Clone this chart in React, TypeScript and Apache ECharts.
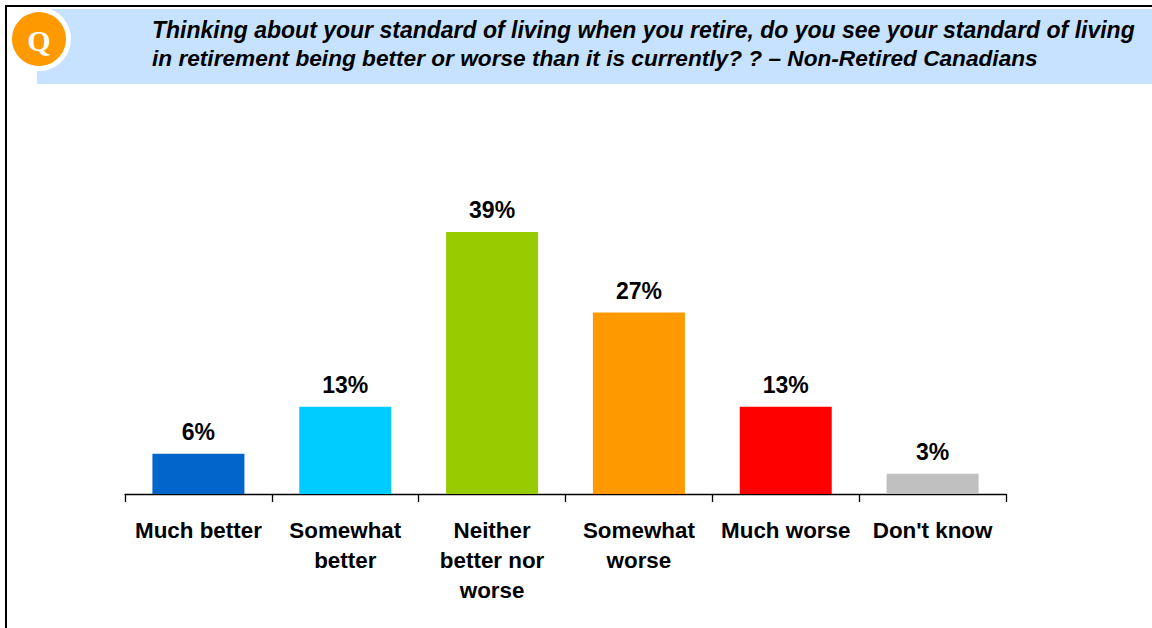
import React, { useEffect, useRef } from "react";
import * as echarts from "echarts";

const categories = ["Much better", "Somewhat\nbetter", "Neither\nbetter nor\nworse", "Somewhat\nworse", "Much worse", "Don't know"];
const values = [6, 13, 39, 27, 13, 3];
const barColors = ["#0066CC", "#00CCFF", "#99CC00", "#FF9900", "#FF0000", "#C0C0C0"];
const titleLines = [
  "Thinking about your standard of living when you retire, do you see your standard of living",
  "in retirement being better or worse than it is currently? ? – Non-Retired Canadians",
];
const FONT = '"Liberation Sans", Arial, sans-serif';

export default function App() {
  const ref = useRef<HTMLDivElement>(null);
  useEffect(() => {
    const chart = echarts.init(ref.current!, undefined, { renderer: "svg" });
    chart.setOption({
      animation: false,
      backgroundColor: "#fff",
      grid: { left: 125, width: 881, top: 225.2, height: 268.8, containLabel: false },
      xAxis: {
        type: "category",
        data: categories,
        axisLine: { show: true, lineStyle: { color: "#000", width: 1.3 } },
        axisTick: { show: true, length: 8, lineStyle: { color: "#000", width: 1.3 } },
        axisLabel: {
          interval: 0,
          margin: 21,
          fontFamily: FONT,
          fontWeight: "bold",
          fontSize: 22.4,
          lineHeight: 30,
          color: "#000",
        },
      },
      yAxis: { type: "value", min: 0, max: 40, show: false },
      series: [
        {
          type: "bar",
          barWidth: 92,
          data: values.map((v, i) => ({ value: v, itemStyle: { color: barColors[i] } })),
          label: {
            show: true,
            position: "top",
            distance: 10,
            formatter: "{c}%",
            fontFamily: FONT,
            fontWeight: "bold",
            fontSize: 23,
            color: "#000",
          },
        },
      ],
      graphic: [
        { type: "rect", z: 1, shape: { x: 37, y: 9, width: 1115, height: 75 }, style: { fill: "#C6E2FF" } },
        { type: "line", z: 2, shape: { x1: 6, y1: 6, x2: 1152, y2: 6 }, style: { stroke: "#000", lineWidth: 2 } },
        { type: "line", z: 2, shape: { x1: 6, y1: 5, x2: 6, y2: 628 }, style: { stroke: "#000", lineWidth: 2 } },
        { type: "circle", z: 3, shape: { cx: 39, cy: 39, r: 32 }, style: { fill: "#fff" } },
        { type: "circle", z: 4, shape: { cx: 39, cy: 39, r: 27 }, style: { fill: "#FF9900" } },
        {
          type: "text", z: 5, x: 39, y: 40,
          style: { text: "Q", fill: "#fff", font: 'bold 30px "Liberation Serif", serif', align: "center", verticalAlign: "middle" },
        },
        ...titleLines.map((t, i) => ({
          type: "text", z: 5, x: 152, y: 30 + i * 28,
          style: { text: t, fill: "#000", font: `italic bold ${i === 0 ? 23 : 22.65}px ${FONT}`, align: "left", verticalAlign: "middle" },
        })),
      ],
    });
    return () => chart.dispose();
  }, []);
  return <div ref={ref} style={{ position: "absolute", left: 0, top: 0, width: 1152, height: 628 }} />;
}
